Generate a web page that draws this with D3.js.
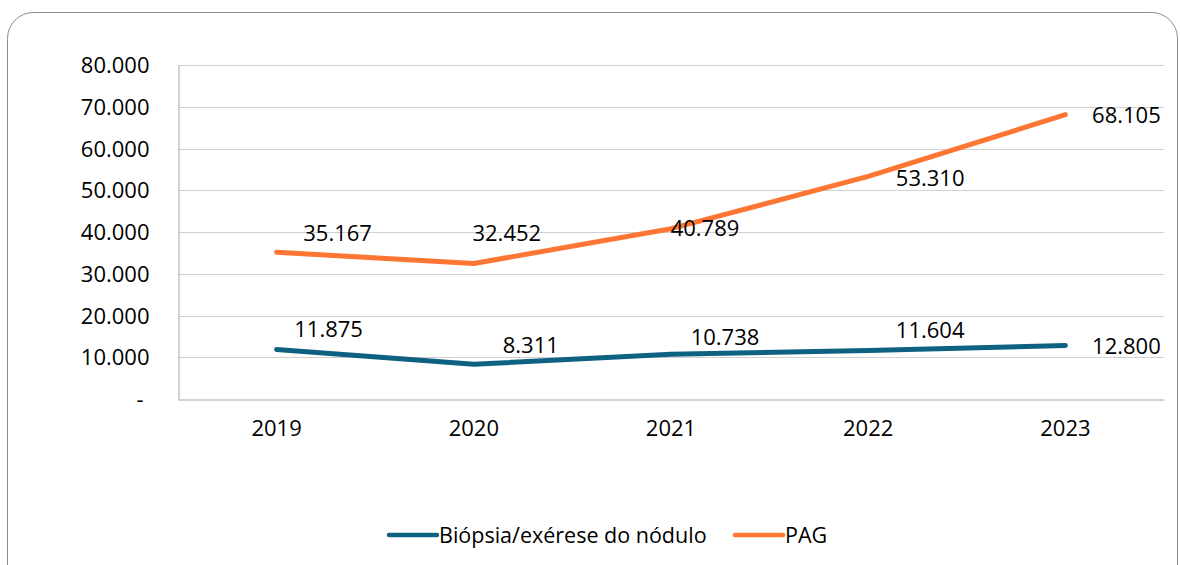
<!DOCTYPE html>
<html>
<head>
<meta charset="utf-8">
<script src="https://cdn.jsdelivr.net/npm/d3@7"></script>
<style>
  body { margin: 0; background: #fff; }
  svg text { font-family: "Open Sans", "Noto Sans", sans-serif; fill: #000; }
</style>
</head>
<body>
<svg id="chart" width="1180" height="565"></svg>
<script>
    //////////// DATA ////////////

    var years = ["2019", "2020", "2021", "2022", "2023"];
    var biopsia = [11875, 8311, 10738, 11604, 12800];
    var pag = [35167, 32452, 40789, 53310, 68105];
    var yTicks = [0, 10000, 20000, 30000, 40000, 50000, 60000, 70000, 80000];
    var seriesNames = ["Biópsia/exérese do nódulo", "PAG"];

    // label nudges (px) relative to each point, as placed in the original
    var biopsiaLabelShift = [[52, -20], [57, -19], [54, -17], [62, -20], [61, 1]];
    var pagLabelShift = [[61, -19], [33, -30], [34, 0], [62, 2], [61, 1]];

    //////////// SETUP ////////////

    var svg = d3.select("#chart");
    var margin = {left: 178, right: 16, top: 65, bottom: 166};
    var width = 1180, height = 565;
    var colors = ["#0f6182", "#fe7633"];
    var fmt = function (v) {
        return v === 0 ? "-" : d3.format(",.0f")(v).replace(/,/g, ".");
    };
    var fmtLabel = function (v) { return d3.format(",")(v).replace(/,/g, "."); };

    // outer rounded frame
    svg.append("rect")
        .attr("x", 7.5).attr("y", 12.5)
        .attr("width", 1170).attr("height", 580)
        .attr("rx", 26).attr("ry", 26)
        .attr("fill", "none")
        .attr("stroke", "#8c8c8c")
        .attr("stroke-width", 1);

    var x = d3.scaleBand()
        .domain(years)
        .range([margin.left, width - margin.right]);

    var y = d3.scaleLinear()
        .domain([0, 80000])
        .range([height - margin.bottom, margin.top]);

    //////////// GRID & AXES ////////////

    svg.append("g")
        .selectAll("line")
        .data(yTicks.filter(function (d) { return d > 0; }))
        .enter().append("line")
        .attr("x1", margin.left).attr("x2", width - margin.right)
        .attr("y1", function (d) { return Math.round(y(d)) + 0.5; })
        .attr("y2", function (d) { return Math.round(y(d)) + 0.5; })
        .attr("stroke", "#d0d0d0")
        .attr("stroke-width", 1);

    var yAxis = svg.append("g")
        .attr("transform", "translate(" + (margin.left + 0.5) + ",0)")
        .call(d3.axisLeft(y).tickValues(yTicks).tickFormat(fmt).tickSize(0).tickPadding(29));
    yAxis.select(".domain").attr("stroke", "#a6a6a6");
    yAxis.selectAll("text")
        .style("font-size", "22px")
        .attr("dy", "0.35em")
        .attr("dx", function (d) { return d === 0 ? -6 : 0; });

    var xAxis = svg.append("g")
        .attr("transform", "translate(0," + (Math.round(y(0)) + 0.5) + ")")
        .call(d3.axisBottom(x).tickSize(0).tickPadding(21));
    xAxis.select(".domain").attr("stroke", "#a6a6a6");
    xAxis.selectAll("text").style("font-size", "22px");

    //////////// LINES ////////////

    var series = [
        {name: seriesNames[0], values: biopsia, shift: biopsiaLabelShift, color: colors[0]},
        {name: seriesNames[1], values: pag, shift: pagLabelShift, color: colors[1]}
    ];

    var line = d3.line()
        .x(function (d, i) { return x(years[i]) + x.bandwidth() / 2; })
        .y(function (d) { return y(d); });

    series.forEach(function (s) {
        svg.append("path")
            .datum(s.values)
            .attr("d", line)
            .attr("fill", "none")
            .attr("stroke", s.color)
            .attr("stroke-width", 5)
            .attr("stroke-linecap", "round")
            .attr("stroke-linejoin", "round");

        svg.append("g")
            .selectAll("text")
            .data(s.values)
            .enter().append("text")
            .attr("x", function (d, i) { return x(years[i]) + x.bandwidth() / 2 + s.shift[i][0]; })
            .attr("y", function (d, i) { return y(d) + s.shift[i][1]; })
            .attr("dy", "0.35em")
            .attr("text-anchor", "middle")
            .style("font-size", "22px")
            .text(fmtLabel);
    });

    //////////// LEGEND ////////////

    var legend = svg.append("g").attr("transform", "translate(389,535)");
    var legendX = [0, 346];
    series.forEach(function (s, i) {
        var g = legend.append("g").attr("transform", "translate(" + legendX[i] + ",0)");
        g.append("line")
            .attr("x1", 0).attr("x2", 48)
            .attr("stroke", s.color)
            .attr("stroke-width", 4.5)
            .attr("stroke-linecap", "round");
        g.append("text")
            .attr("x", 50)
            .attr("dy", "0.35em")
            .style("font-size", "21.5px")
            .text(s.name);
    });
</script>
</body>
</html>
